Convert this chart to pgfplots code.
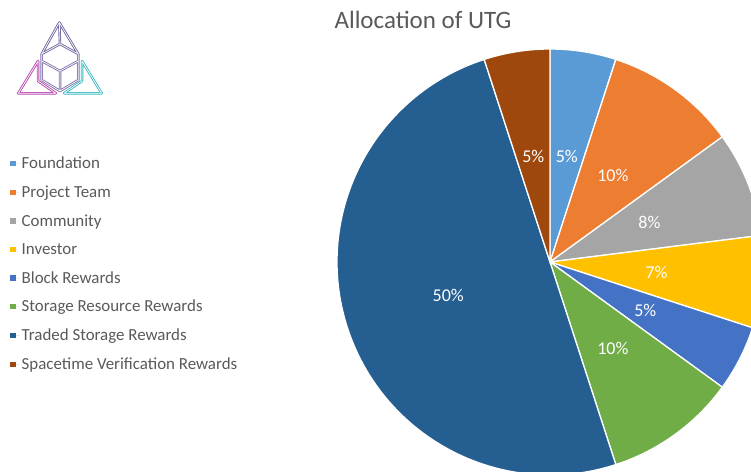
\documentclass[border=0pt]{standalone}
\usepackage{fontspec}
\setmainfont{Carlito}
\usepackage{pgfplots}
\usepackage{pgfplotstable}
\pgfplotsset{compat=1.18}

\definecolor{cFound}{HTML}{5B9BD5}
\definecolor{cProj}{HTML}{ED7D31}
\definecolor{cComm}{HTML}{A5A5A5}
\definecolor{cInv}{HTML}{FFC000}
\definecolor{cBlock}{HTML}{4472C4}
\definecolor{cStor}{HTML}{70AD47}
\definecolor{cTrad}{HTML}{255E91}
\definecolor{cSpace}{HTML}{9E480E}
\definecolor{txtgray}{HTML}{595959}
\definecolor{logoTop}{HTML}{7468A0}
\definecolor{logoL}{HTML}{B848B0}
\definecolor{logoM}{HTML}{8473AC}
\definecolor{logoR}{HTML}{3CBCC4}

% slices, clockwise from 12 o'clock
\pgfplotstableread[col sep=comma]{
name,value,color
Foundation,5,cFound
Project Team,10,cProj
Community,8,cComm
Investor,7,cInv
Block Rewards,5,cBlock
Storage Resource Rewards,10,cStor
Traded Storage Rewards,50,cTrad
Spacetime Verification Rewards,5,cSpace
}\piedata

% start/end angles from the cumulative values
\xdef\pieCum{0}
\foreach \i in {0,...,7}{%
  \pgfplotstablegetelem{\i}{value}\of\piedata
  \let\pieV\pgfplotsretval
  \expandafter\xdef\csname pieP\i\endcsname{\pieV}%
  \pgfplotstablegetelem{\i}{color}\of\piedata
  \expandafter\xdef\csname pieC\i\endcsname{\pgfplotsretval}%
  \pgfplotstablegetelem{\i}{name}\of\piedata
  \expandafter\xdef\csname pieN\i\endcsname{\pgfplotsretval}%
  \pgfmathsetmacro\tmpA{90-3.6*\pieCum}%
  \pgfmathsetmacro\tmpB{90-3.6*(\pieCum+\pieV)}%
  \pgfmathsetmacro\tmpM{(\tmpA+\tmpB)/2}%
  \expandafter\xdef\csname pieS\i\endcsname{\tmpA}%
  \expandafter\xdef\csname pieE\i\endcsname{\tmpB}%
  \expandafter\xdef\csname pieM\i\endcsname{\tmpM}%
  \pgfmathsetmacro\tmpC{\pieCum+\pieV}%
  \xdef\pieCum{\tmpC}%
}

\tikzset{logo/.style={line width=0.9pt, double=white, double distance=0.7pt, line join=round}}

\begin{document}
\begin{tikzpicture}
\useasboundingbox (0,0) rectangle (751pt,471pt);
\begin{axis}[
  x=1pt, y=1pt,
  xmin=0, xmax=751, ymin=0, ymax=471,
  hide axis,
  legend cell align=left,
  legend style={at={(axis cs:7,318)}, anchor=north west, draw=none, fill=none,
    font=\fontsize{16.9}{19}\selectfont, text=txtgray, row sep=11.6pt},
  legend image code/.code={\fill[#1] (0pt,-2.6pt) rectangle (5.5pt,2.9pt); \path (0pt,0pt) -- (9.5pt,0pt);},
]
\pgfplotsinvokeforeach{0,...,7}{
  \fill[fill=\csname pieC#1\endcsname, draw=white, line width=1.3pt]
    (axis cs:550,209) -- ++(\csname pieS#1\endcsname:213pt)
    arc[start angle=\csname pieS#1\endcsname, end angle=\csname pieE#1\endcsname, radius=213pt] -- cycle;
  \addlegendimage{draw=none, fill=\csname pieC#1\endcsname}
  \addlegendentryexpanded{\csname pieN#1\endcsname}
}
\pgfplotsinvokeforeach{0,...,7}{
  \node[text=white, font=\fontsize{18}{20}\selectfont]
    at ([shift={(\csname pieM#1\endcsname:107pt)}]axis cs:550,209) {\csname pieP#1\endcsname\%};
}

\node[font=\fontsize{25}{28}\selectfont, text=txtgray] at (axis cs:423,451) {Allocation of UTG};

% logo
\draw[logo, logoTop]
  (axis cs:59.3,448.5) -- (axis cs:41.7,417) -- (axis cs:60,427) -- (axis cs:78.3,417) -- cycle
  (axis cs:59.3,448.5) -- (axis cs:60,427);
\draw[logo, logoM]
  (axis cs:41.7,417) -- (axis cs:41.7,391) -- (axis cs:60,380) -- (axis cs:78.3,391) -- (axis cs:78.3,417)
  (axis cs:41.7,410) -- (axis cs:60,400) -- (axis cs:78.3,410)
  (axis cs:60,400) -- (axis cs:60,380);
\draw[logo, logoL]
  (axis cs:38,410) -- (axis cs:18.3,377.7) -- (axis cs:56,377.7) -- (axis cs:38,390) -- cycle;
\draw[logo, logoR]
  (axis cs:82,410) -- (axis cs:101.7,377.7) -- (axis cs:64,377.7) -- (axis cs:82,390) -- cycle;
\end{axis}
\end{tikzpicture}
\end{document}
